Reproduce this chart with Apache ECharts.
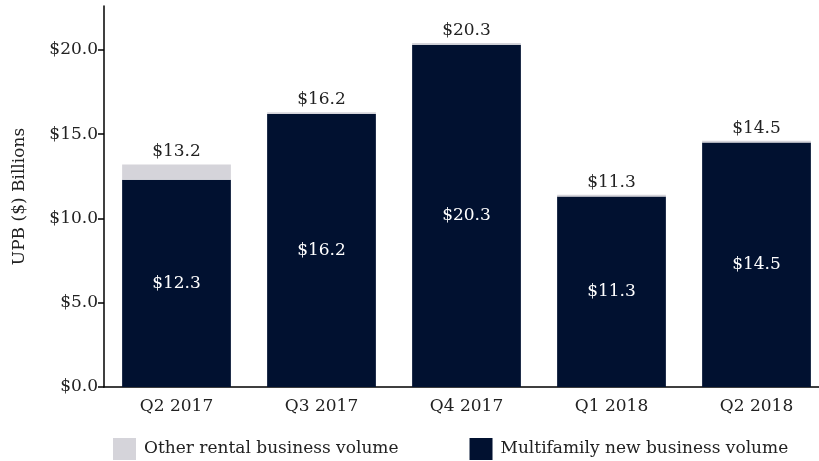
<!DOCTYPE html>
<html>
<head>
<meta charset="utf-8">
<script src="https://cdn.jsdelivr.net/npm/echarts@6/dist/echarts.min.js"></script>
<style>
html,body{margin:0;padding:0;background:#fff;}
#main{width:819px;height:461px;}
</style>
</head>
<body>
<div id="main"></div>
<script>
var quarters = ['Q2 2017', 'Q3 2017', 'Q4 2017', 'Q1 2018', 'Q2 2018'];
var multifamily = [12.3, 16.2, 20.3, 11.3, 14.5];
var otherRental = [0.9, 0.1, 0.1, 0.1, 0.1];
var totals = [13.2, 16.2, 20.3, 11.3, 14.5];
var yTicks = [0, 5, 10, 15, 20];

var fontName = 'DejaVu Serif';
var textColor = '#222';
var fs = 17;

var chart = echarts.init(document.getElementById('main'));
chart.setOption({
	animation: false,
	textStyle: { fontFamily: fontName },
	grid: { left: 104, width: 725, top: 6, bottom: 74, outerBoundsMode: 'none', containLabel: false },
	legend: {
		left: 108,
		top: 433,
		itemWidth: 23,
		itemHeight: 22,
		itemGap: 71,
		icon: 'rect',
		selectedMode: false,
		textStyle: { fontFamily: fontName, fontSize: fs, color: textColor, padding: [0, 0, 0, 3] },
		data: ['Other rental business volume', 'Multifamily new business volume']
	},
	xAxis: {
		type: 'category',
		data: quarters,
		axisLine: { lineStyle: { color: '#000', width: 1.5 } },
		axisTick: { length: 8, lineStyle: { color: '#000', width: 1.5 } },
		axisLabel: { fontFamily: fontName, fontSize: fs, color: textColor, margin: 11 }
	},
	yAxis: {
		type: 'value',
		min: 0,
		max: 22.6,
		interval: 5,
		name: 'UPB ($) Billions',
		nameLocation: 'middle',
		nameGap: 76,
		nameTextStyle: { fontFamily: fontName, fontSize: fs, color: textColor },
		axisLine: { show: true, lineStyle: { color: '#000', width: 1.5 } },
		axisTick: { show: true, length: 6, customValues: yTicks, lineStyle: { color: '#000', width: 1.5 } },
		axisLabel: {
			customValues: yTicks,
			fontFamily: fontName, fontSize: fs, color: textColor, margin: 6,
			formatter: function (v) { return '$' + v.toFixed(1); }
		},
		splitLine: { show: false }
	},
	series: [
		{
			name: 'Multifamily new business volume',
			type: 'bar',
			stack: 'total',
			barCategoryGap: '25%',
			data: multifamily,
			itemStyle: { color: '#011130' },
			label: {
				show: true,
				position: 'inside',
				color: '#fff',
				fontFamily: fontName,
				fontSize: fs,
				formatter: function (p) { return '$' + p.value.toFixed(1); }
			}
		},
		{
			name: 'Other rental business volume',
			type: 'bar',
			stack: 'total',
			data: otherRental,
			itemStyle: { color: '#d5d4da' },
			label: {
				show: true,
				position: 'top',
				distance: 4,
				color: textColor,
				fontFamily: fontName,
				fontSize: fs,
				formatter: function (p) { return '$' + totals[p.dataIndex].toFixed(1); }
			}
		}
	]
});
</script>
</body>
</html>
